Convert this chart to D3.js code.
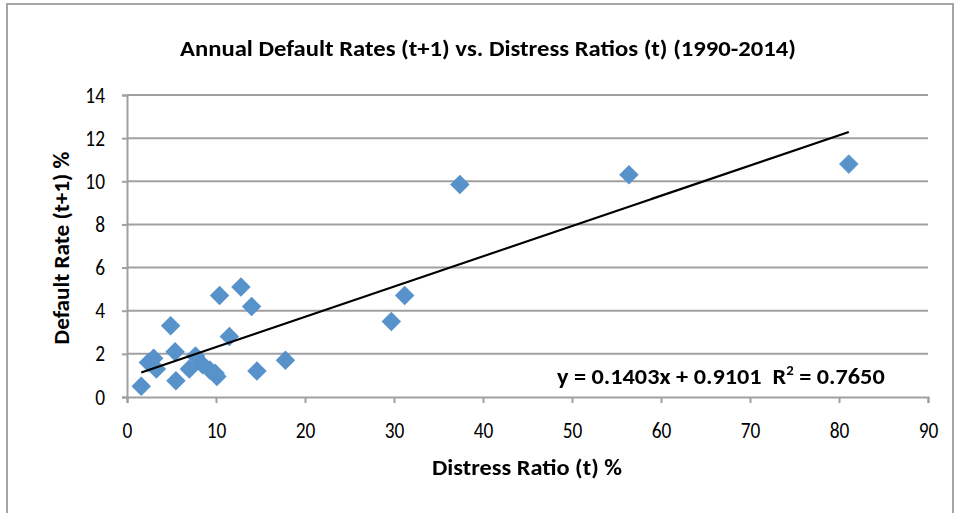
<!DOCTYPE html>
<html>
<head>
<meta charset="utf-8">
<script src="https://cdn.jsdelivr.net/npm/d3@7"></script>
<style>
  html, body { margin: 0; padding: 0; background: #fff; }
  svg { display: block; }
  text { font-family: Carlito, "Liberation Sans Narrow", "Open Sans", sans-serif; fill: #000; white-space: pre; }
</style>
</head>
<body>
<svg id="chart" width="959" height="513"></svg>
<script>
// Distress ratio at year t (%) and default rate at year t+1 (%), 1990-2014
const distressRatio = [1.6, 2.4, 3.0, 3.3, 4.9, 5.4, 5.5, 7.0, 7.7, 8.5, 9.3, 9.9, 10.1, 10.4, 11.5, 12.8, 14.0, 14.6, 17.8, 29.7, 31.2, 37.4, 56.4, 81.1];
const defaultRate   = [0.5, 1.6, 1.8, 1.3, 3.3, 2.1, 0.75, 1.3, 1.9, 1.5, 1.25, 1.1, 0.95, 4.7, 2.8, 5.1, 4.2, 1.2, 1.7, 3.5, 4.7, 9.85, 10.3, 10.8];

// Linear fit reported on the chart
const slope = 0.1403;
const intercept = 0.9101;
const rSquared = 0.7650;

const xTicks = [0, 10, 20, 30, 40, 50, 60, 70, 80, 90];
const yTicks = [0, 2, 4, 6, 8, 10, 12, 14];

const titleText = "Annual Default Rates (t+1) vs. Distress Ratios (t) (1990-2014)";
const xTitle = "Distress Ratio (t) %";
const yTitle = "Default Rate (t+1) %";

const FONT = "Carlito, 'Liberation Sans Narrow', 'Open Sans', sans-serif";

const svg = d3.select("#chart");
const points = distressRatio.map((d, i) => ({ x: d, y: defaultRate[i] }));

const x = d3.scaleLinear().domain([0, 90]).range([127, 928]);
const y = d3.scaleLinear().domain([0, 14]).range([397, 95]);

// Condense a text run horizontally by a factor
function condense(sel, k) {
  sel.each(function () {
    const len = this.getComputedTextLength();
    d3.select(this).attr("textLength", len * k).attr("lengthAdjust", "spacingAndGlyphs");
  });
}

// Outer chart frame
svg.append("rect")
  .attr("x", 7).attr("y", 4)
  .attr("width", 946).attr("height", 530)
  .attr("fill", "#fff")
  .attr("stroke", "#a6a6a6").attr("stroke-width", 2);

// Soft edge for markers
const defs = svg.append("defs");
defs.append("filter").attr("id", "soft")
  .append("feGaussianBlur").attr("stdDeviation", 0.7);

// Horizontal gridlines
svg.append("g")
  .selectAll("line").data(yTicks.filter(v => v > 0)).join("line")
  .attr("x1", x(0)).attr("x2", x(90))
  .attr("y1", d => y(d)).attr("y2", d => y(d))
  .attr("stroke", "#a0a0a0").attr("stroke-width", 2);

// Y axis
const yAxis = svg.append("g")
  .attr("transform", `translate(${x(0)},0)`)
  .call(d3.axisLeft(y).tickValues(yTicks).tickSize(5).tickPadding(17).tickFormat(d3.format("d")));
yAxis.select(".domain").attr("stroke", "#a0a0a0").attr("stroke-width", 2);
yAxis.selectAll(".tick line").attr("stroke", "#a0a0a0").attr("stroke-width", 2);
yAxis.selectAll(".tick text").attr("font-size", 22).attr("font-family", FONT).call(condense, 0.88);

// X axis
const xAxis = svg.append("g")
  .attr("transform", `translate(0,${y(0)})`)
  .call(d3.axisBottom(x).tickValues(xTicks).tickSize(6).tickPadding(19).tickFormat(d3.format("d")));
xAxis.select(".domain").attr("stroke", "#a0a0a0").attr("stroke-width", 2);
xAxis.selectAll(".tick line").attr("stroke", "#a0a0a0").attr("stroke-width", 2);
xAxis.selectAll(".tick text").attr("font-size", 22).attr("font-family", FONT).call(condense, 0.88);

// Scatter markers (diamonds)
const diamond = d3.symbol().type(d3.symbolSquare).size(190);
svg.append("g").attr("filter", "url(#soft)")
  .selectAll("path").data(points).join("path")
  .attr("d", diamond)
  .attr("transform", d => `translate(${x(d.x)},${y(d.y)}) rotate(45)`)
  .attr("fill", "#5892ca");

// Trend line across the data range
const xMin = d3.min(distressRatio), xMax = d3.max(distressRatio);
svg.append("line")
  .attr("x1", x(xMin)).attr("y1", y(slope * xMin + intercept))
  .attr("x2", x(xMax)).attr("y2", y(slope * xMax + intercept))
  .attr("stroke", "#000").attr("stroke-width", 2.2);

// Fit equation
const eq = svg.append("text")
  .attr("x", 557).attr("y", 384)
  .attr("font-size", 23).attr("font-weight", "bold");
eq.append("tspan").text(`y = ${slope.toFixed(4)}x + ${intercept.toFixed(4)}  R`);
eq.append("tspan").attr("font-size", 14).attr("dy", -9).text("2");
eq.append("tspan").attr("dy", 9).text(` = ${rSquared.toFixed(4)}`);

// Titles
const title = svg.append("text")
  .attr("x", 488).attr("y", 56)
  .attr("text-anchor", "middle")
  .attr("font-size", 23).attr("font-weight", "bold")
  .text(titleText);

const xLab = svg.append("text")
  .attr("x", 527).attr("y", 475)
  .attr("text-anchor", "middle")
  .attr("font-size", 23).attr("font-weight", "bold")
  .text(xTitle);

const yLab = svg.append("text")
  .attr("transform", "translate(69,248) rotate(-90)")
  .attr("text-anchor", "middle")
  .attr("font-size", 23).attr("font-weight", "bold")
  .text(yTitle);

// Fit text runs to their set widths
function fit(sel, w) {
  sel.attr("textLength", w).attr("lengthAdjust", "spacingAndGlyphs");
}
fit(title, 616);
fit(xLab, 190);
fit(yLab, 193);
const eqLen = eq.node().getComputedTextLength();
const s = 328 / eqLen;
eq.attr("transform", `translate(557,0) scale(${s},1) translate(-557,0)`);
</script>
</body>
</html>
